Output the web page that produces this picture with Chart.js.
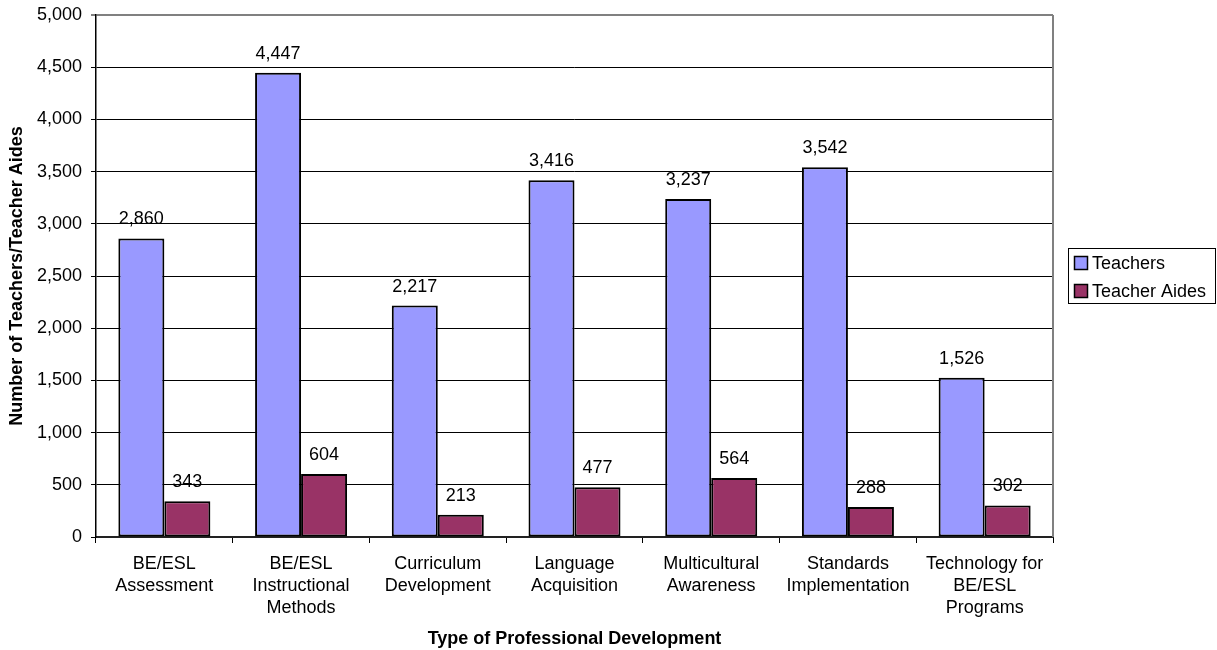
<!DOCTYPE html>
<html lang="en">
<head>
    <meta charset="UTF-8">
    <title>Professional Development Participation</title>
    <script src="https://cdn.jsdelivr.net/npm/chart.js"></script>
    <style>
        body {
            margin: 0;
            padding: 0;
            background: #ffffff;
        }
        canvas {
            display: block;
        }
    </style>
</head>
<body>
    <canvas id="pdChart" width="1217" height="650"></canvas>

    <script>
        const categories = [
            ['BE/ESL', 'Assessment'],
            ['BE/ESL', 'Instructional', 'Methods'],
            ['Curriculum', 'Development'],
            ['Language', 'Acquisition'],
            ['Multicultural', 'Awareness'],
            ['Standards', 'Implementation'],
            ['Technology for', 'BE/ESL', 'Programs']
        ];
        const teachers = [2860, 4447, 2217, 3416, 3237, 3542, 1526];
        const teacherAides = [343, 604, 213, 477, 564, 288, 302];
        const yTicks = [0, 500, 1000, 1500, 2000, 2500, 3000, 3500, 4000, 4500, 5000];

        const FONT = "'Liberation Sans', Arial, sans-serif";
        Chart.defaults.font.family = FONT;
        Chart.defaults.font.size = 18;
        Chart.defaults.color = '#000';

        const fmt = v => v.toLocaleString('en-US');

        // value labels above each bar
        const barLabels = {
            id: 'barLabels',
            afterDatasetsDraw(chart) {
                const ctx = chart.ctx;
                ctx.save();
                ctx.font = '18px ' + FONT;
                ctx.fillStyle = '#000';
                ctx.textAlign = 'center';
                ctx.textBaseline = 'middle';
                chart.data.datasets.forEach((ds, i) => {
                    chart.getDatasetMeta(i).data.forEach((bar, j) => {
                        ctx.fillText(fmt(ds.data[j]), bar.x, bar.y - 19);
                    });
                });
                ctx.restore();
            }
        };

        // grey frame on the right edge of the plot area
        const plotFrame = {
            id: 'plotFrame',
            beforeDatasetsDraw(chart) {
                const { ctx, chartArea } = chart;
                ctx.save();
                ctx.strokeStyle = '#808080';
                ctx.lineWidth = 2;
                ctx.beginPath();
                ctx.moveTo(chartArea.right, chartArea.top);
                ctx.lineTo(chartArea.right, chartArea.bottom);
                ctx.stroke();
                ctx.restore();
            }
        };

        // boxed legend to the right of the plot
        const boxLegend = {
            id: 'boxLegend',
            afterDraw(chart) {
                const { ctx, chartArea } = chart;
                const left = chartArea.right + 15;
                const top = 248;
                const w = 147;
                const h = 55;
                ctx.save();
                ctx.strokeStyle = '#000';
                ctx.lineWidth = 1;
                ctx.strokeRect(left + 0.5, top + 0.5, w, h);
                ctx.font = '18px ' + FONT;
                ctx.textBaseline = 'middle';
                ctx.textAlign = 'left';
                chart.data.datasets.forEach((ds, i) => {
                    const cy = top + 15 + i * 28;
                    ctx.fillStyle = ds.backgroundColor;
                    ctx.fillRect(left + 6.5, cy - 6.5, 13, 13);
                    ctx.lineWidth = 1.5;
                    ctx.strokeRect(left + 6.5, cy - 6.5, 13, 13);
                    ctx.fillStyle = '#000';
                    ctx.fillText(ds.label, left + 24, cy + 1);
                });
                ctx.restore();
            }
        };

        new Chart(document.getElementById('pdChart'), {
            type: 'bar',
            data: {
                labels: categories,
                datasets: [
                    {
                        label: 'Teachers',
                        data: teachers,
                        backgroundColor: '#9999FF',
                        borderColor: '#000',
                        borderWidth: 2,
                        borderSkipped: false,
                        categoryPercentage: 0.673,
                        barPercentage: 1
                    },
                    {
                        label: 'Teacher Aides',
                        data: teacherAides,
                        backgroundColor: '#993366',
                        borderColor: '#000',
                        borderWidth: 2,
                        borderSkipped: false,
                        categoryPercentage: 0.673,
                        barPercentage: 1
                    }
                ]
            },
            options: {
                responsive: false,
                animation: false,
                layout: {
                    padding: { left: 0, top: 15, right: 164, bottom: 0 }
                },
                plugins: {
                    legend: { display: false },
                    tooltip: { enabled: false }
                },
                scales: {
                    x: {
                        afterFit(scale) { scale.height = 113; },
                        grid: {
                            offset: true,
                            drawOnChartArea: false,
                            color: '#000',
                            tickLength: 6
                        },
                        border: { color: '#222', width: 2 },
                        ticks: {
                            padding: 10,
                            maxRotation: 0,
                            font: { size: 18, lineHeight: 1.22 }
                        },
                        title: {
                            display: true,
                            text: 'Type of Professional Development',
                            font: { size: 18, weight: 'bold' },
                            padding: { top: 0, bottom: 0 }
                        }
                    },
                    y: {
                        min: 0,
                        max: 5000,
                        afterFit(scale) {
                            scale.width = 96;
                            scale.paddingTop = 0;
                            scale.paddingBottom = 0;
                        },
                        afterBuildTicks(scale) {
                            scale.ticks = yTicks.map(v => ({ value: v }));
                        },
                        grid: {
                            color: c => (c.tick && c.tick.value === 5000 ? '#808080' : '#000'),
                            lineWidth: c => (c.tick && c.tick.value === 5000 ? 2 : 1),
                            tickLength: 5
                        },
                        border: { color: '#000', width: 1.5 },
                        ticks: {
                            padding: 9,
                            callback: v => fmt(v)
                        },
                        title: {
                            display: true,
                            text: 'Number of Teachers/Teacher Aides',
                            font: { size: 18, weight: 'bold' },
                            padding: { top: 6, bottom: 0 }
                        }
                    }
                }
            },
            plugins: [plotFrame, barLabels, boxLegend]
        });
    </script>
</body>
</html>
